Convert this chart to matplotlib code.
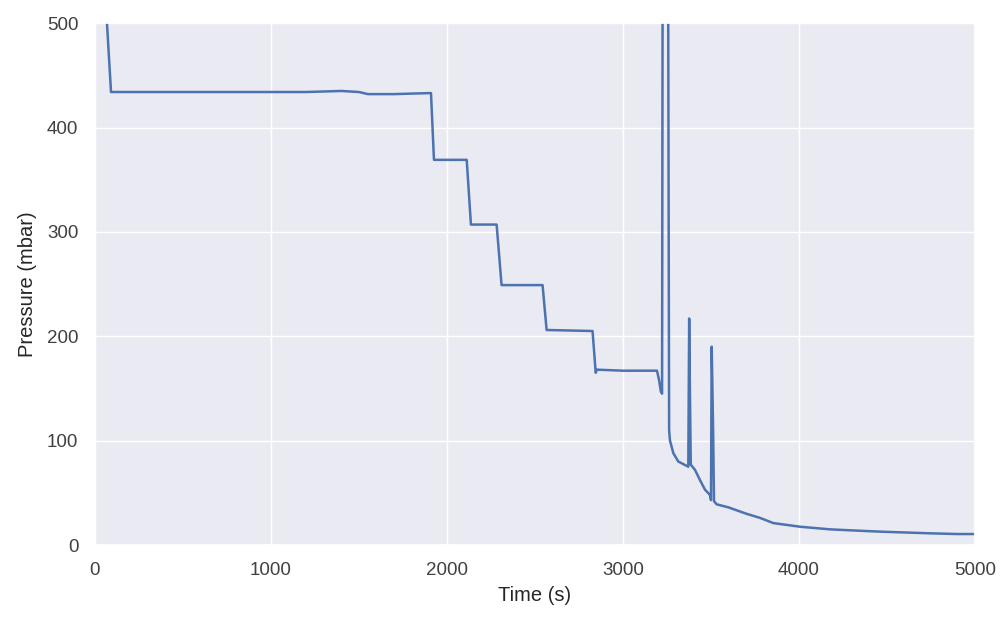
import matplotlib
matplotlib.use('Agg')
import matplotlib.pyplot as plt
import seaborn as sns

sns.set_theme(style='darkgrid')
plt.rcParams['font.family'] = ['Liberation Sans', 'DejaVu Sans']

# readings (s, mbar)
time_s = [55, 68, 91, 400, 800, 1200, 1400, 1500, 1550, 1700, 1909, 1926,
          2112, 2136, 2282, 2310, 2543, 2566, 2827, 2845, 2852, 3000, 3193,
          3205, 3215, 3222, 3228, 3252, 3262, 3267, 3286, 3314, 3371, 3376,
          3380, 3385, 3409, 3438, 3466, 3494, 3500, 3504, 3512, 3517, 3532,
          3600, 3700, 3778, 3854, 4006, 4176, 4300, 4460, 4600, 4744, 4900, 4990]
pressure_mbar = [540, 500, 434, 434, 434, 434, 435, 434, 432, 432, 433, 369,
                 369, 307, 307, 249, 249, 206, 205, 165, 168, 167, 167,
                 158, 147, 145, 900, 900, 110, 100, 88, 80, 75, 217,
                 150, 77, 72, 62, 53, 48, 43, 190, 110, 42, 39,
                 36, 30, 26, 21, 17.5, 15, 14, 12.8, 12, 11.2, 10.5, 10.5]

fig, ax = plt.subplots(figsize=(10, 6.25), dpi=100)
fig.subplots_adjust(left=0.095, right=0.975, top=0.963, bottom=0.128)
ax.plot(time_s, pressure_mbar, color='#4c72b0', linewidth=1.8)
ax.set_xlim(0, 5000)
ax.set_ylim(0, 500)
ax.set_xticks([0, 1000, 2000, 3000, 4000, 5000])
ax.set_yticks([0, 100, 200, 300, 400, 500])
ax.set_xlabel('Time (s)', fontsize=14.5, labelpad=5)
ax.set_ylabel('Pressure (mbar)', fontsize=14.5, labelpad=7)
ax.tick_params(labelsize=13.5, pad=6, colors='.25')

plt.savefig('out.png', dpi=100)
plt.close()
